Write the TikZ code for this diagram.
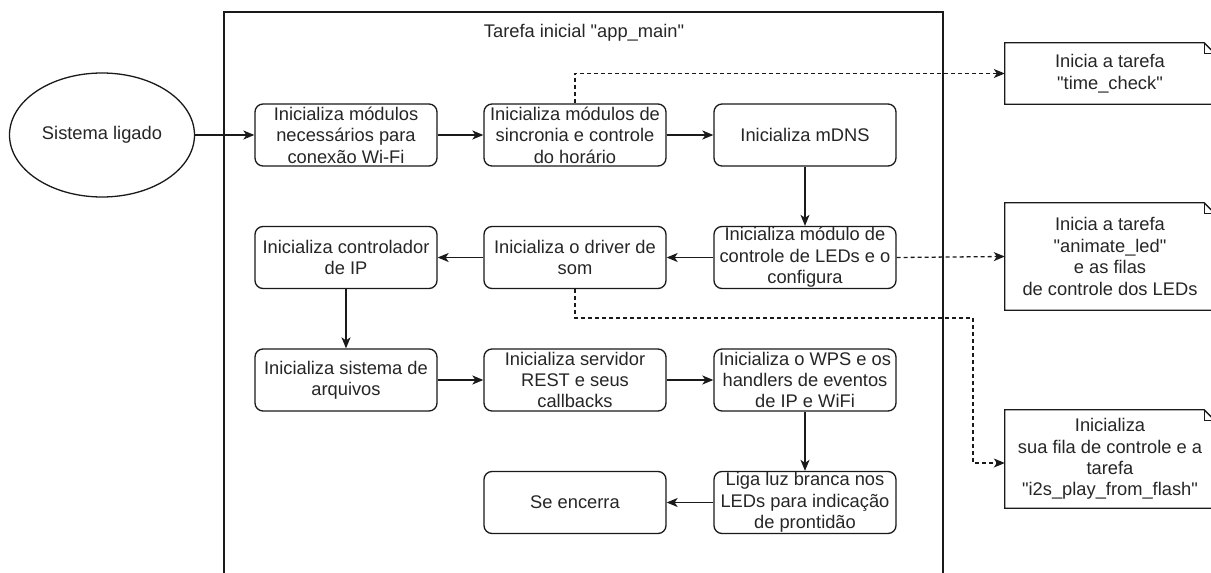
\documentclass[tikz,border=0pt]{standalone}
\usepackage{fontspec}
\setmainfont{Liberation Sans}[Ligatures=TeXOff]
\usetikzlibrary{arrows.meta,shapes.geometric}
\definecolor{txt}{HTML}{262626}
\definecolor{ln}{HTML}{1A1A1A}
\newcommand\drawnote[1]{%
  \draw[notepath] (#1.north west) -- ([xshift=-11pt]#1.north east) -- ([yshift=-11pt]#1.north east) -- (#1.south east) -- (#1.south west) -- cycle;
  \draw[notepath] ([xshift=-11pt]#1.north east) -- ([xshift=-11pt,yshift=-11pt]#1.north east) -- ([yshift=-11pt]#1.north east);}
\begin{document}
\begin{tikzpicture}[x=1pt,y=-1pt,
  font=\fontsize{18.3}{21.4}\selectfont, text=txt,
  box/.style={draw=ln, rounded corners=8pt, line width=1.3pt, minimum width=182pt, minimum height=62pt, align=center, inner sep=0pt},
  notebox/.style={minimum width=210pt, align=center, inner sep=0pt},
  notepath/.style={draw=ln, line width=1.3pt, line join=miter},
  arr/.style={draw=ln, line width=1.3pt, -{Stealth[length=11pt,width=9pt,inset=3pt]}},
  dsh/.style={arr, dash pattern=on 4pt off 3pt}]
\useasboundingbox (0,0) rectangle (1211,573);
\clip (0,0) rectangle (1211,573);
\fill[white] (0,0) rectangle (1211,573);
% container
\draw[ln, line width=1.3pt] (224,590) -- (224,12) -- (943,12) -- (943,590);
\node (title) at (584,33) {Tarefa inicial "app\_main"};
% start
\node[ellipse, draw=ln, line width=1.3pt, minimum width=185pt, minimum height=124pt, inner sep=0pt] (start) at (102,135) {Sistema ligado};
% boxes
\node[box] (b1) at (346,135) {Inicializa módulos\\necessários para\\conexão Wi-Fi};
\node[box] (b2) at (575,135) {Inicializa módulos de\\sincronia e controle\\do horário};
\node[box] (b3) at (805,135) {Inicializa mDNS};
\node[box] (b4) at (346,257.5) {Inicializa controlador\\de IP};
\node[box] (b5) at (575,257.5) {Inicializa o driver de\\som};
\node[box] (b6) at (805,257.5) {Inicializa módulo de\\controle de LEDs e o\\configura};
\node[box] (b7) at (346,380) {Inicializa sistema de\\arquivos};
\node[box] (b8) at (575,380) {Inicializa servidor\\REST e seus\\callbacks};
\node[box] (b9) at (805,380) {Inicializa o WPS e os\\handlers de eventos\\de IP e WiFi};
\node[box] (b10) at (575,502.5) {Se encerra};
\node[box] (b11) at (805,502.5) {Liga luz branca nos\\LEDs para indicação\\de prontidão};
% notes
\node[notebox, minimum height=61pt] (n1) at (1110,73.5) {Inicia a tarefa\\"time\_check"};
\node[notebox, minimum height=107pt] (n2) at (1110,256.5) {Inicia a tarefa\\"animate\_led"\\e as filas\\de controle dos LEDs};
\node[notebox, minimum height=98pt] (n3) at (1110,459) {Inicializa\\sua fila de controle e a\\tarefa\\"i2s\_play\_from\_flash"};
\drawnote{n1}
\drawnote{n2}
\drawnote{n3}
% solid arrows
\draw[arr] (start) -- (b1);
\draw[arr] (b1) -- (b2);
\draw[arr] (b2) -- (b3);
\draw[arr] (b3) -- (b6);
\draw[arr] (b6) -- (b5);
\draw[arr] (b5) -- (b4);
\draw[arr] (b4) -- (b7);
\draw[arr] (b7) -- (b8);
\draw[arr] (b8) -- (b9);
\draw[arr] (b9) -- (b11);
\draw[arr] (b11) -- (b10);
% dashed arrows
\draw[dsh] (b2.north) |- (n1.west);
\draw[dsh] (b6.east) -- (n2.west);
\coordinate (c1) at (973,318);
\draw[dsh] (b5.south) |- (c1) |- ([yshift=-4pt]n3.west);
\end{tikzpicture}
\end{document}
